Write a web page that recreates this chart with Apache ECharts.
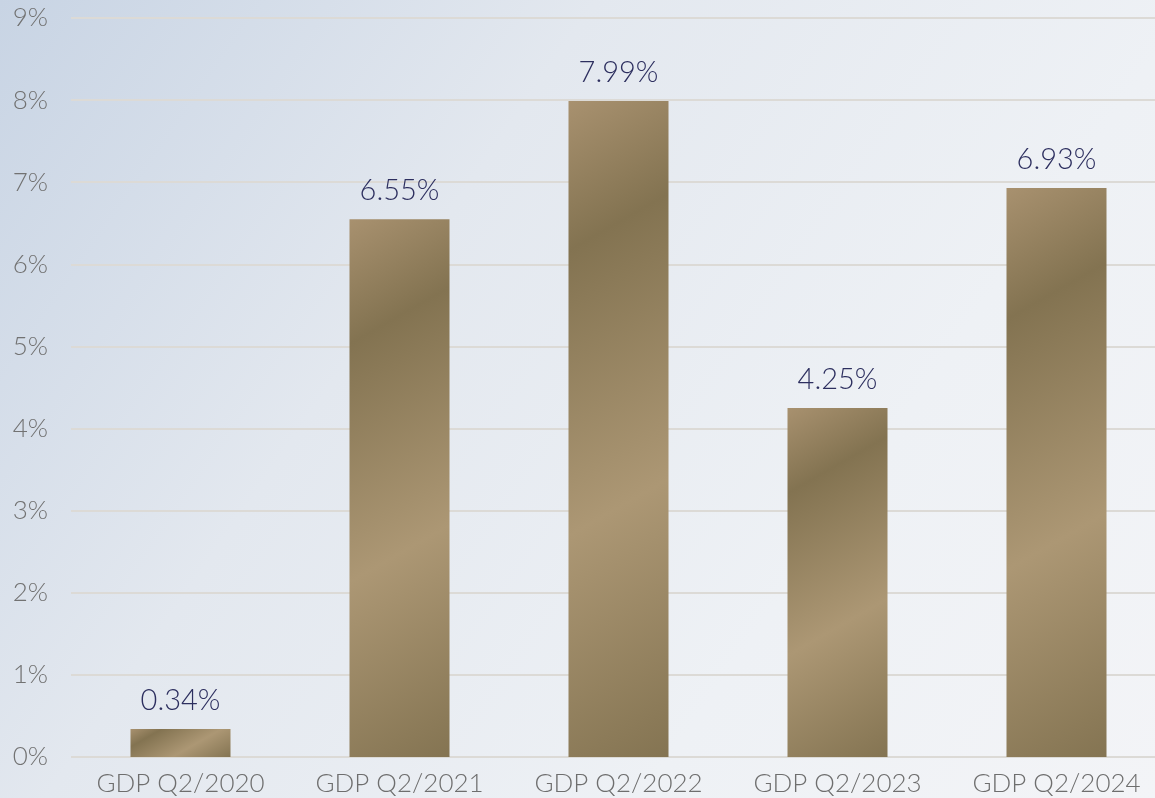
<!DOCTYPE html>
<html>
<head>
<meta charset="utf-8">
<script src="https://cdn.jsdelivr.net/npm/echarts@6/dist/echarts.min.js"></script>
<style>
  html, body { margin: 0; padding: 0; }
  #chart { width: 1155px; height: 798px; }
</style>
</head>
<body>
<div id="chart"></div>
<script>
const categories = ['GDP Q2/2020', 'GDP Q2/2021', 'GDP Q2/2022', 'GDP Q2/2023', 'GDP Q2/2024']
const gdpGrowth = [0.34, 6.55, 7.99, 4.25, 6.93]
const yTicks = [0, 1, 2, 3, 4, 5, 6, 7, 8, 9]

const BAR_W = 100
const goldStops = [
  {offset: 0, color: '#a8916f'},
  {offset: 0.21, color: '#837351'},
  {offset: 0.61, color: '#ac9774'},
  {offset: 1, color: '#847452'}
]

// diagonal sheen, same angle on every bar (like a css 150deg gradient)
function barGradient(w, h) {
  const dx = 0.495, dy = 0.869
  const L = w * dx + h * dy
  return new echarts.graphic.LinearGradient(
    0.5 - dx * L / 2 / w, 0.5 - dy * L / 2 / h,
    0.5 + dx * L / 2 / w, 0.5 + dy * L / 2 / h,
    goldStops
  )
}

const chart = echarts.init(document.getElementById('chart'))

const baseFont = 'Lato, "Open Sans", sans-serif'

const option = {
  animation: false,
  backgroundColor: new echarts.graphic.LinearGradient(0, 0, 1, 1, [
    {offset: 0, color: '#c8d4e4'},
    {offset: 0.35, color: '#e3e8ef'},
    {offset: 0.7, color: '#eef1f5'},
    {offset: 1, color: '#f3f4f7'}
  ]),
  grid: {
    left: 71,
    right: -11,
    top: 18,
    bottom: 41,
    outerBoundsMode: 'none'
  },
  xAxis: {
    type: 'category',
    data: categories,
    axisLine: { show: false },
    axisTick: { show: false },
    axisLabel: {
      interval: 0,
      color: '#6e6e6e',
      fontSize: 26,
      fontWeight: 300,
      fontFamily: baseFont,
      margin: 14
    }
  },
  yAxis: {
    type: 'value',
    min: yTicks[0],
    max: yTicks[yTicks.length - 1],
    interval: 1,
    axisLine: { show: false },
    axisTick: { show: false },
    splitLine: {
      lineStyle: { color: '#dcdad6', width: 2 }
    },
    axisLabel: {
      color: '#727272',
      fontSize: 26,
      fontWeight: 300,
      fontFamily: baseFont,
      margin: 23,
      formatter: '{value}%'
    }
  },
  series: [{
    type: 'bar',
    barWidth: BAR_W,
    data: gdpGrowth,
    label: {
      show: true,
      position: 'top',
      distance: 14,
      color: '#2d2f5f',
      fontSize: 29,
      fontWeight: 300,
      fontFamily: baseFont,
      formatter: function (p) {
        return p.value.toFixed(2) + '%'
      }
    }
  }]
}

chart.setOption(option)

// now that the scale exists, give each bar its own sheen sized to the bar
const zeroY = chart.convertToPixel({yAxisIndex: 0}, 0)
const styled = gdpGrowth.map(function (v) {
  const h = Math.max(1, zeroY - chart.convertToPixel({yAxisIndex: 0}, v))
  return {
    value: v,
    itemStyle: { color: barGradient(BAR_W, h) }
  }
})
chart.setOption({ series: [{ data: styled }] })
</script>
</body>
</html>
